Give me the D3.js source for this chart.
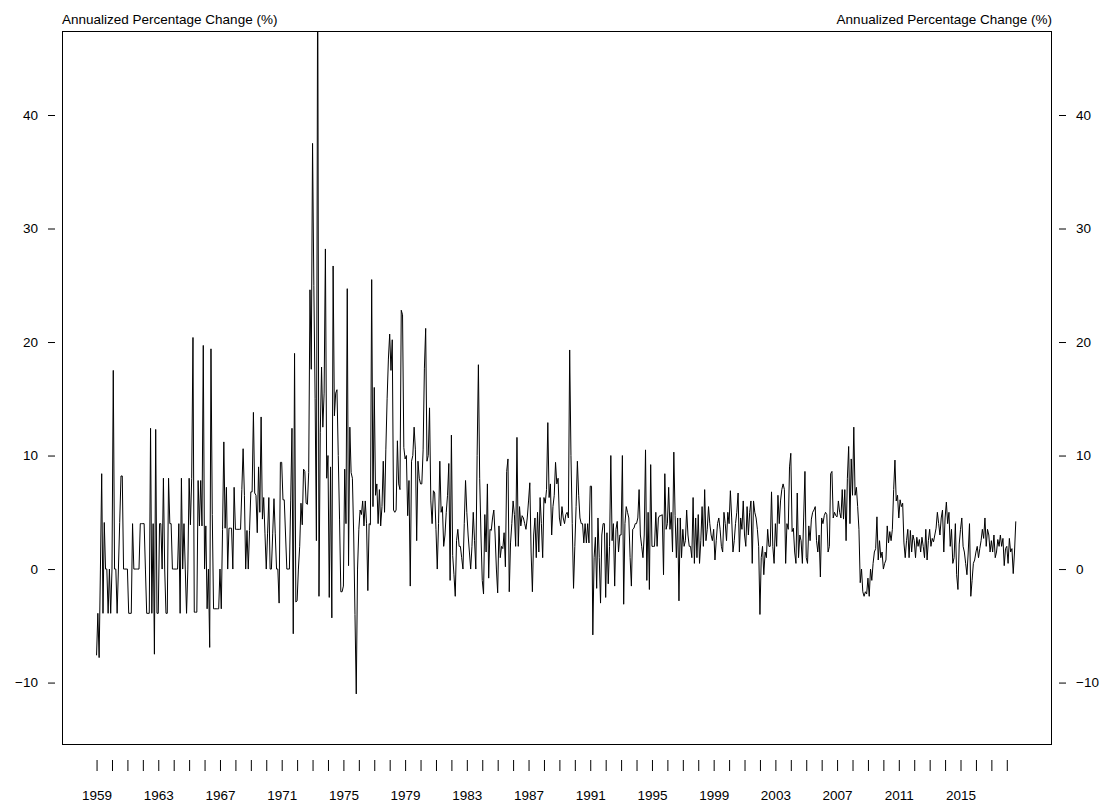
<!DOCTYPE html>
<html>
<head>
<meta charset="utf-8">
<script src="https://cdn.jsdelivr.net/npm/d3@7"></script>
<style>
  body { margin: 0; background: #fff; }
  svg text { font-family: "Liberation Sans", Arial, sans-serif; font-size: 13.5px; fill: #000; }
</style>
</head>
<body>
<svg id="vis" width="1107" height="810"></svg>
<script>
// monthly series, first value is Jan 1959
const startYear = 1959;
const pctChange = [
  -7.6, -3.9, -7.8, 0, 8.4, -3.9, 4.1, 0, 0, -3.9, 0, -3.9,          // 1959
  0, 17.5, 0, 0, -3.9, 0, 4.1, 8.2, 8.2, 0, 0, 0,                    // 1960
  0, -3.9, -3.9, -3.9, 4.0, 0, 0, 0, 0, 0, 4.0, 4.0,                 // 1961
  4.0, 4.0, 0, -3.9, -3.9, -3.9, 12.4, -3.9, 4.0, -7.5, 12.3, -3.9,  // 1962
  -3.9, 4.0, 4.0, 0, 8.0, 0, -3.9, -3.9, 8.0, 4.0, 4.0, 0,           // 1963
  0, 0, 0, 0, 4.0, -3.9, 8.0, 0, 4.0, 0, -3.9, 0,                    // 1964
  8.0, 3.9, 8.0, 20.4, -3.8, -3.8, -3.8, 7.8, 3.8, 7.8, 3.8, 19.7,   // 1965
  0, 3.8, -3.5, 0, -6.9, 19.4, 4.8, -3.5, -3.5, -3.5, -3.5, -3.5,    // 1966
  0, -3.5, 3.5, 11.2, 3.6, 7.2, 0, 3.6, 3.6, 3.6, 0, 7.2,            // 1967
  3.5, 3.5, 3.5, 3.5, 3.5, 7.0, 10.6, 6.5, 0, 3.4, 0, 3.4,           // 1968
  6.8, 6.8, 13.8, 6.7, 6.5, 3.2, 9.0, 5.0, 13.4, 4.4, 6.3, 3.1,      // 1969
  0, 3.1, 6.3, 0, 0, 3.1, 6.2, 3.1, 0, 0, -3.0, 9.4,                 // 1970
  9.4, 6.1, 6.1, 3.0, 0, 0, 0, 6.0, 12.4, -5.7, 19.0, -2.9,          // 1971
  -2.8, 0, 2.0, 5.8, 3.9, 8.8, 8.6, 5.8, 5.7, 8.5, 24.6, 17.6,       // 1972
  37.5, 25.0, 15.0, 2.5, 55.0, -2.4, 12.0, 17.8, 12.5, 15.5, 28.2, 8.0, // 1973
  10.0, -2.5, 9.0, -4.3, 26.7, 13.5, 15.5, 15.8, 10.0, 4.4, -2.0, -2.0, // 1974
  -1.5, 8.8, 4.0, 24.7, 0.3, 12.5, 8.5, 8.0, 3.0, -4.0, -11.0, 0,    // 1975
  3.5, 5.2, 4.8, 6.0, 3.8, 6.0, 4.0, -1.9, 4.0, 3.9, 25.5, 5.5,      // 1976
  16.0, 6.5, 7.5, 4.0, 7.0, 3.8, 5.5, 9.5, 5.0, 10.5, 15.0, 18.5,    // 1977
  20.7, 17.5, 20.2, 5.2, 5.0, 5.2, 11.3, 7.5, 7.0, 22.8, 22.4, 10.7, // 1978
  9.7, 10.0, 4.7, 7.8, -1.5, 9.5, 10.0, 12.5, 10.5, 2.5, 9.5, 8.0,   // 1979
  7.5, 7.5, 10.5, 17.7, 21.2, 9.5, 10.0, 14.2, 6.0, 4.0, 6.9, 6.7,   // 1980
  3.5, 0, 4.0, 9.5, 5.0, 5.5, 2.0, 3.0, 5.0, 6.5, 9.3, -1.0,         // 1981
  11.8, 1.2, -0.5, -2.4, 2.5, 3.5, 2.0, 2.0, 1.0, 0, 4.0, 7.8,       // 1982
  5.0, 3.0, 1.5, 0, 2.0, 5.0, 2.5, 0, 10.0, 18.0, 8.0, 3.0,          // 1983
  -1.0, -2.2, 4.8, 1.5, 7.5, -0.8, 3.5, 3.4, 4.5, 5.2, 3.0, 0,       // 1984
  -2.1, 3.8, 1.0, 2.0, 1.8, 3.2, 0.2, 8.6, 9.7, -2.0, 2.3, 4.0,      // 1985
  6.0, 4.8, 2.0, 11.6, 2.0, 5.5, 3.8, 4.7, 4.5, 4.0, 3.5, 4.5,       // 1986
  6.0, 7.6, 1.5, -2.0, 3.0, 4.5, 1.0, 5.0, 1.5, 6.3, 4.0, 1.0,       // 1987
  6.3, 5.8, 7.0, 12.9, 6.3, 7.5, 3.0, 5.5, 6.5, 9.4, 7.5, 8.0,       // 1988
  4.5, 3.8, 5.5, 4.5, 4.0, 4.8, 5.0, 4.5, 19.3, 10.0, 4.0, -1.7,     // 1989
  2.0, 5.5, 9.5, 6.5, 4.5, 4.0, 4.0, 2.3, 4.0, 2.3, 4.0, 2.3,        // 1990
  7.3, 7.3, -5.8, 1.0, 2.8, -1.7, 4.5, 1.0, -3.0, 3.0, 4.0, 4.0,     // 1991
  -2.5, 3.2, -1.3, 2.0, 10.0, 2.5, 4.0, -1.5, 3.5, 4.2, 1.5, 3.0,    // 1992
  3.0, 10.0, -3.1, 4.0, 5.5, 5.0, 4.5, 1.0, -1.5, 3.5, 3.6, 4.0,     // 1993
  4.0, 4.5, 7.0, 3.0, 2.0, 1.0, 3.0, 10.5, -1.0, 5.0, -1.8, 9.2,     // 1994
  2.0, 2.0, 2.0, 5.0, 2.0, 4.5, 4.7, 4.7, 4.8, -0.5, 8.4, 3.5,       // 1995
  4.0, 7.2, 3.5, 5.0, 1.5, 10.3, 4.7, 1.0, 4.5, -2.8, 4.5, 1.0,      // 1996
  3.5, 2.0, 2.5, 5.2, 3.0, 2.0, 2.0, 1.0, 6.3, 0.5, 4.5, 1.0,        // 1997
  4.8, 0.5, 2.5, 5.5, 2.0, 7.0, 2.5, 3.5, 5.5, 4.0, 3.0, 2.5,        // 1998
  3.5, 0.8, 2.5, 4.0, 4.5, 3.5, 2.0, 1.5, 5.0, 4.0, 2.5, 5.0,        // 1999
  4.0, 6.9, 4.5, 1.5, 2.5, 4.0, 5.0, 6.7, 1.5, 4.5, 3.5, 6.0,        // 2000
  3.0, 2.0, 5.5, 3.0, 5.0, 6.0, 0.5, 6.0, 5.0, 4.5, 3.5, 2.0,        // 2001
  -4.0, 1.0, 2.0, -0.5, 1.5, 1.0, 3.5, 2.0, 2.0, 6.8, 2.0, 0.5,      // 2002
  4.0, 2.0, 6.5, 4.0, 6.0, 7.0, 7.5, 7.0, 0.5, 4.0, 3.5, 9.0,        // 2003
  10.2, 3.3, 3.6, 1.5, 0.5, 6.7, 1.0, 3.0, 2.5, 0.5, 4.5, 8.6,       // 2004
  1.0, 0.5, 3.8, 2.5, 4.4, 5.0, 5.2, 5.5, 2.5, 1.5, 3.0, -0.7,       // 2005
  4.5, 4.0, 4.7, 5.0, 4.8, 1.5, 2.0, 8.4, 8.6, 4.5, 5.0, 4.7,        // 2006
  4.6, 6.0, 5.0, 4.5, 7.0, 4.4, 7.0, 2.5, 8.0, 10.8, 4.0, 9.7,       // 2007
  6.5, 12.5, 6.5, 7.2, 5.5, 3.5, -1.2, 0, -2.0, -2.4, -2.0, -2.2,    // 2008
  -0.8, -2.4, 0, -1.0, 0.5, 1.5, 1.8, 4.6, 0.8, 2.5, 1.0, 1.5,       // 2009
  0, 0.5, 0.8, 3.8, 2.3, 3.3, 2.5, 3.5, 7.0, 9.6, 6.0, 6.5,          // 2010
  4.5, 6.1, 5.5, 5.8, 2.3, 1.0, 2.5, 3.5, 1.0, 3.4, 1.5, 3.0,        // 2011
  2.5, 1.0, 2.8, 2.0, 2.6, 1.5, 2.8, 2.0, 1.0, 3.5, 0.8, 2.5,        // 2012
  3.5, 2.0, 2.7, 2.4, 3.0, 3.6, 5.0, 4.0, 3.0, 4.5, 5.2, 1.5,        // 2013
  4.5, 5.9, 4.0, 5.0, 2.0, 3.5, 0.5, 1.0, 4.0, -0.5, -1.8, 2.2,      // 2014
  3.5, 4.5, 2.0, 1.5, 0.5, -0.5, 1.5, 4.0, -2.4, -1.0, 0.5, 0.8,     // 2015
  1.5, 2.0, 1.0, 1.8, 2.5, 3.5, 2.7, 4.5, 2.0, 3.5, 3.0, 1.5,        // 2016
  2.5, 1.5, 3.0, 1.0, 1.5, 2.6, 2.0, 3.0, 2.0, 2.7, 0.3, 1.8,        // 2017
  2.0, 0.5, 2.7, 1.5, 1.8, -0.4, 1.5, 4.2                            // 2018
];

const yearTicks = [1959, 1960, 1961, 1962, 1963, 1964, 1965, 1966, 1967, 1968,
  1969, 1970, 1971, 1972, 1973, 1974, 1975, 1976, 1977, 1978, 1979, 1980, 1981,
  1982, 1983, 1984, 1985, 1986, 1987, 1988, 1989, 1990, 1991, 1992, 1993, 1994,
  1995, 1996, 1997, 1998, 1999, 2000, 2001, 2002, 2003, 2004, 2005, 2006, 2007,
  2008, 2009, 2010, 2011, 2012, 2013, 2014, 2015, 2016, 2017, 2018];
const yearLabels = [1959, 1963, 1967, 1971, 1975, 1979, 1983, 1987, 1991, 1995, 1999, 2003, 2007, 2011, 2015];
const valueTicks = [-10, 0, 10, 20, 30, 40];
const axisTitle = "Annualized Percentage Change (%)";

const box = {left: 62, right: 1052, top: 31, bottom: 745};

const svg = d3.select("svg#vis");

const x = d3.scaleLinear()
  .domain([1956.76, 2020.93])
  .range([box.left, box.right]);

const y = d3.scaleLinear()
  .domain([-15.5, 47.4])
  .range([box.bottom, box.top]);

const data = pctChange.map(function(v, i) {
  return {t: startYear + i / 12, v: v};
});

svg.append("clipPath")
  .attr("id", "plotclip")
  .append("rect")
  .attr("x", box.left)
  .attr("y", box.top)
  .attr("width", box.right - box.left)
  .attr("height", box.bottom - box.top);

const line = d3.line()
  .x(function(d) { return x(d.t); })
  .y(function(d) { return y(d.v); });

svg.append("path")
  .datum(data)
  .attr("clip-path", "url(#plotclip)")
  .attr("d", line)
  .attr("fill", "none")
  .attr("stroke", "#000")
  .attr("stroke-width", 1);

// frame
svg.append("rect")
  .attr("x", box.left + 0.5)
  .attr("y", box.top + 0.5)
  .attr("width", box.right - box.left - 1)
  .attr("height", box.bottom - box.top - 1)
  .attr("fill", "none")
  .attr("stroke", "#000")
  .attr("stroke-width", 1);

// bottom axis: a tick every year, a label every 4 years
const xAxis = d3.axisBottom(x)
  .tickValues(yearTicks)
  .tickSize(11)
  .tickPadding(19)
  .tickFormat(function(d) { return yearLabels.indexOf(d) >= 0 ? String(d) : ""; });

svg.append("g")
  .attr("transform", "translate(0," + (box.bottom + 15) + ")")
  .call(xAxis)
  .call(function(g) { g.select(".domain").remove(); });

const yLeft = d3.axisLeft(y)
  .tickValues(valueTicks)
  .tickSize(7)
  .tickPadding(10)
  .tickFormat(d3.format("d"));

svg.append("g")
  .attr("transform", "translate(" + (box.left - 7) + ",0)")
  .call(yLeft)
  .call(function(g) { g.select(".domain").remove(); });

const yRight = d3.axisRight(y)
  .tickValues(valueTicks)
  .tickSize(7)
  .tickPadding(10)
  .tickFormat(d3.format("d"));

svg.append("g")
  .attr("transform", "translate(" + (box.right + 7) + ",0)")
  .call(yRight)
  .call(function(g) { g.select(".domain").remove(); });

svg.selectAll(".tick text")
  .style("font-family", "'Liberation Sans', Arial, sans-serif")
  .style("font-size", "13.5px");

svg.append("text")
  .attr("x", box.left)
  .attr("y", box.top - 7)
  .attr("text-anchor", "start")
  .style("font-size", "13.5px")
  .text(axisTitle);

svg.append("text")
  .attr("x", box.right)
  .attr("y", box.top - 7)
  .attr("text-anchor", "end")
  .style("font-size", "13.5px")
  .text(axisTitle);
</script>
</body>
</html>
